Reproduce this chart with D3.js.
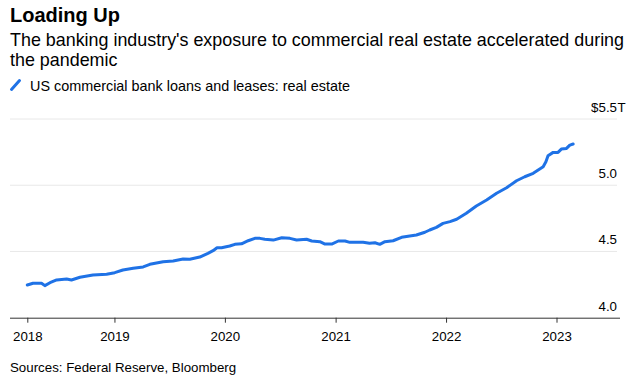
<!DOCTYPE html>
<html>
<head>
<meta charset="utf-8">
<script src="https://cdn.jsdelivr.net/npm/d3@7"></script>
<style>
  html, body { margin: 0; padding: 0; background: #fff; }
  svg { display: block; font-family: "Liberation Sans", Arial, sans-serif; }
</style>
</head>
<body>
<svg id="chart" width="633" height="382"></svg>
<script>
// ---- data ----
const dates = [
  "2018-03-19","2018-04-07","2018-05-05","2018-05-16","2018-06-02","2018-06-24","2018-07-27","2018-08-12",
  "2018-09-09","2018-10-22","2018-12-06","2019-01-02","2019-01-29","2019-03-04","2019-04-06","2019-04-28",
  "2019-06-11","2019-07-14","2019-08-16","2019-09-07","2019-10-10","2019-11-06","2019-11-23","2019-12-06",
  "2019-12-21","2020-01-17","2020-02-03","2020-02-25","2020-03-18","2020-04-09","2020-04-26","2020-05-12",
  "2020-06-09","2020-07-07","2020-08-03","2020-08-25","2020-09-27","2020-10-14","2020-11-10","2020-11-27",
  "2020-12-19","2021-01-10","2021-02-01","2021-02-17","2021-04-02","2021-04-23","2021-05-11","2021-05-27",
  "2021-06-13","2021-07-10","2021-08-07","2021-09-03","2021-09-25","2021-10-23","2021-11-08","2021-11-30",
  "2021-12-22","2022-01-14","2022-02-05","2022-03-09","2022-04-11","2022-05-15","2022-06-17","2022-07-20",
  "2022-08-22","2022-09-18","2022-10-16","2022-11-18","2022-11-27","2022-12-04","2022-12-21","2023-01-06",
  "2023-01-17","2023-02-03","2023-02-14","2023-02-25"
];
const values = [
  4.247,4.260,4.260,4.242,4.264,4.285,4.292,4.285,
  4.305,4.322,4.328,4.340,4.360,4.373,4.383,4.403,
  4.423,4.428,4.443,4.441,4.458,4.486,4.506,4.528,
  4.528,4.541,4.554,4.558,4.581,4.599,4.599,4.592,
  4.586,4.604,4.599,4.586,4.592,4.579,4.574,4.556,
  4.556,4.579,4.579,4.569,4.569,4.562,4.566,4.554,
  4.574,4.581,4.607,4.617,4.624,4.645,4.662,4.682,
  4.712,4.725,4.743,4.788,4.843,4.888,4.939,4.981,
  5.034,5.064,5.090,5.140,5.177,5.223,5.248,5.248,
  5.273,5.278,5.303,5.311
];
const xTickDates = ["2018-03-19","2019-01-01","2020-01-01","2021-01-01","2022-01-01","2023-01-01"];
const xTickLabels = ["2018","2019","2020","2021","2022","2023"];
const yTicks = [4.0, 4.5, 5.0, 5.5];
const yTickLabels = ["4.0", "4.5", "5.0", "$5.5"];
const title = "Loading Up";
const subtitleLines = ["The banking industry's exposure to commercial real estate accelerated during", "the pandemic"];
const legendLabel = "US commercial bank loans and leases: real estate";
const source = "Sources: Federal Reserve, Bloomberg";

// ---- drawing ----
const parse = d3.utcParse("%Y-%m-%d");
const data = dates.map((d, i) => ({ date: parse(d), value: values[i] }));
const blue = "#1f72e6";

const svg = d3.select("#chart");

const x = d3.scaleUtc()
  .domain([parse("2018-01-01"), parse("2023-01-01")])
  .range([4, 556.5]);
const y = d3.scaleLinear()
  .domain([4.0, 5.5])
  .range([317.7, 119]);

// titles
svg.append("text").attr("x", 10).attr("y", 22)
  .attr("font-size", 20).attr("font-weight", "bold").attr("fill", "#000").text(title);
svg.selectAll("text.sub").data(subtitleLines).enter().append("text")
  .attr("class", "sub").attr("x", 10).attr("y", (d, i) => 46 + i * 20)
  .attr("font-size", 17.9).attr("fill", "#000").text(d => d);

// legend
svg.append("line").attr("x1", 11.5).attr("y1", 89.5).attr("x2", 19.5).attr("y2", 80.5)
  .attr("stroke", blue).attr("stroke-width", 3).attr("stroke-linecap", "round");
svg.append("text").attr("x", 30).attr("y", 91)
  .attr("font-size", 14.4).attr("fill", "#000").text(legendLabel);

// gridlines
svg.append("g").selectAll("line").data(yTicks.filter(v => v > 4.0)).enter().append("line")
  .attr("x1", 10).attr("x2", 617)
  .attr("y1", d => y(d)).attr("y2", d => y(d))
  .attr("stroke", "#e8e8e8").attr("stroke-width", 1);

// y labels (right)
const yl = svg.append("g").attr("font-size", 13.3).attr("fill", "#000");
yTicks.forEach((v, i) => {
  yl.append("text").attr("x", 617).attr("y", y(v) - 7)
    .attr("text-anchor", "end").text(yTickLabels[i]);
  if (i === yTicks.length - 1) {
    yl.append("text").attr("x", 617.5).attr("y", y(v) - 7).text("T");
  }
});

// x axis
const xAxis = d3.axisBottom(x)
  .tickValues(xTickDates.map(parse))
  .tickFormat((d, i) => xTickLabels[i])
  .tickSizeInner(5).tickSizeOuter(0).tickPadding(9);
const gx = svg.append("g").attr("transform", `translate(0,${y(4.0)})`).call(xAxis);
gx.select(".domain").remove();
gx.append("line").attr("x1", 10).attr("x2", 620).attr("y1", 0.5).attr("y2", 0.5)
  .attr("stroke", "#333").attr("stroke-width", 1);
gx.selectAll(".tick line").attr("stroke", "#333");
gx.selectAll(".tick text").attr("font-size", 13.3).attr("fill", "#000")
  .attr("font-family", "Liberation Sans, Arial, sans-serif");

// line
const line = d3.line().x(d => x(d.date)).y(d => y(d.value)).curve(d3.curveLinear);
svg.append("path").datum(data).attr("d", line)
  .attr("fill", "none").attr("stroke", blue).attr("stroke-width", 3)
  .attr("stroke-linejoin", "round").attr("stroke-linecap", "round");

// source
svg.append("text").attr("x", 10).attr("y", 372)
  .attr("font-size", 13.3).attr("fill", "#000").text(source);
</script>
</body>
</html>
